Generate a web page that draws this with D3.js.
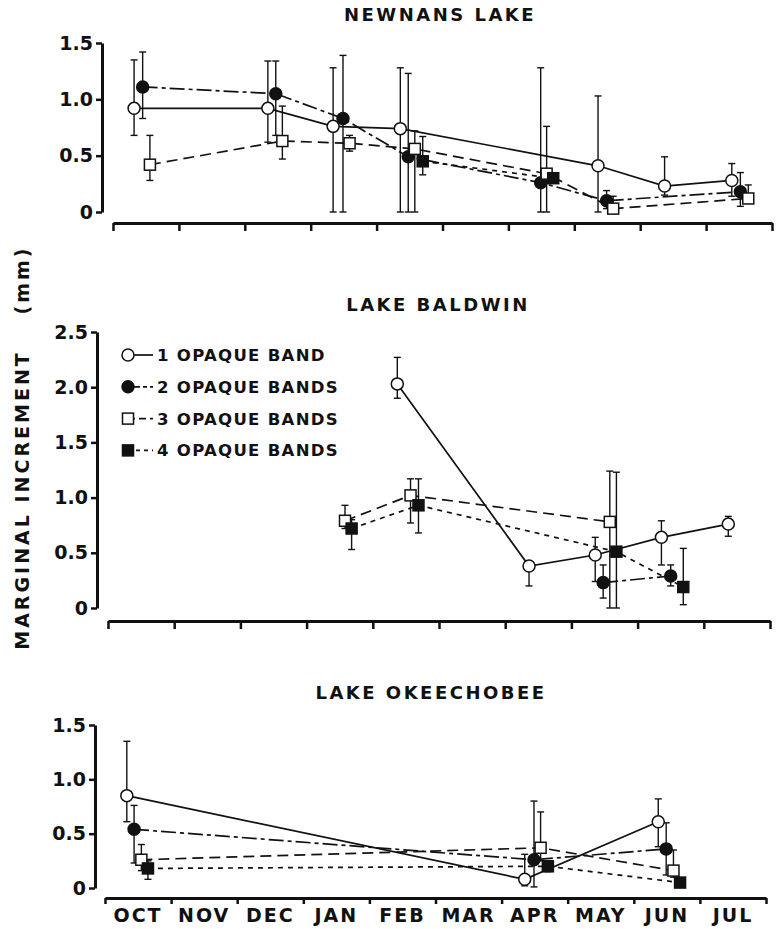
<!DOCTYPE html>
<html>
<head>
<meta charset="utf-8">
<script src="https://cdn.jsdelivr.net/npm/d3@7"></script>
<style>
  body { margin: 0; background: #fff; }
  svg text { font-family: "DejaVu Sans", sans-serif; font-weight: bold; fill: #111; }
</style>
</head>
<body>
<svg id="chart" width="776" height="929"></svg>
<script>
const months = ['OCT', 'NOV', 'DEC', 'JAN', 'FEB', 'MAR', 'APR', 'MAY', 'JUN', 'JUL'];
const seriesNames = ['1 OPAQUE BAND', '2 OPAQUE BANDS', '3 OPAQUE BANDS', '4 OPAQUE BANDS'];
const ticksSmall = [0, 0.5, 1.0, 1.5];
const ticksLarge = [0, 0.5, 1.0, 1.5, 2.0, 2.5];

// [series, month (0 = start of Oct), mean, upper, lower]
const newnans = [
    [0, 0.32, 0.92, 1.35, 0.68], [0, 2.35, 0.92, 1.34, 0.62], [0, 3.34, 0.76, 1.28, 0],
    [0, 4.36, 0.74, 1.28, 0], [0, 7.36, 0.41, 1.03, 0], [0, 8.37, 0.23, 0.49, 0.15], [0, 9.39, 0.28, 0.43, 0.14],
    [1, 0.45, 1.11, 1.42, 0.83], [1, 2.47, 1.05, 1.34, 0.68], [1, 3.49, 0.83, 1.39, 0],
    [1, 4.48, 0.49, 1.23, 0], [1, 6.49, 0.26, 1.28, 0], [1, 7.49, 0.10, 0.19, 0.03], [1, 9.52, 0.18, 0.35, 0.05],
    [2, 0.56, 0.42, 0.68, 0.28], [2, 2.57, 0.63, 0.94, 0.47], [2, 3.59, 0.61, 0.68, 0.54],
    [2, 4.58, 0.56, 0.72, 0], [2, 6.58, 0.34, 0.76, 0], [2, 7.59, 0.03, 0.14, 0], [2, 9.64, 0.12, 0.24, 0.10],
    [3, 4.70, 0.45, 0.67, 0.33], [3, 6.68, 0.30, 0.30, 0.30]
];
const baldwin = [
    [0, 4.37, 2.03, 2.27, 1.90], [0, 6.36, 0.38, 0.42, 0.20], [0, 7.36, 0.48, 0.64, 0.24],
    [0, 8.36, 0.64, 0.79, 0.39], [0, 9.37, 0.76, 0.83, 0.65],
    [1, 7.48, 0.23, 0.39, 0.09], [1, 8.50, 0.29, 0.39, 0.20],
    [2, 3.58, 0.79, 0.93, 0.72], [2, 4.57, 1.02, 1.17, 0.77], [2, 7.58, 0.78, 1.24, 0],
    [3, 3.68, 0.72, 0.80, 0.53], [3, 4.69, 0.93, 1.17, 0.68], [3, 7.68, 0.51, 1.23, 0], [3, 8.69, 0.19, 0.54, 0.03]
];
const okeechobee = [
    [0, 0.33, 0.85, 1.35, 0.61], [0, 6.35, 0.08, 0.31, 0.02], [0, 8.37, 0.61, 0.82, 0.38],
    [1, 0.44, 0.54, 0.76, 0.23], [1, 6.49, 0.26, 0.80, 0.01], [1, 8.49, 0.36, 0.60, 0.12],
    [2, 0.55, 0.26, 0.40, 0.16], [2, 6.59, 0.37, 0.70, 0.25], [2, 8.60, 0.16, 0.35, 0.10],
    [3, 0.65, 0.18, 0.25, 0.08], [3, 6.70, 0.20, 0.23, 0.15], [3, 8.70, 0.05, 0.05, 0.05]
];

const ink = '#111';
const styles = [
    {dash: null, shape: 'circle', fill: '#fff'},
    {dash: '15,4,4,4', shape: 'circle', fill: ink},
    {dash: '11,6', shape: 'square', fill: '#fff'},
    {dash: '5,5', shape: 'square', fill: ink}
];

const panels = [
    {title: 'NEWNANS LAKE', data: newnans, ticks: ticksSmall, left: 113, right: 772, zero: 212, top: 43,
     yAxisX: 102, xAxisY: 223, titleX: 440, titleY: 21},
    {title: 'LAKE BALDWIN', data: baldwin, ticks: ticksLarge, left: 108, right: 770, zero: 608, top: 332,
     yAxisX: 97, xAxisY: 621, titleX: 438, titleY: 311, legend: true},
    {title: 'LAKE OKEECHOBEE', data: okeechobee, ticks: ticksSmall, left: 105, right: 766, zero: 888, top: 725,
     yAxisX: 95, xAxisY: 898, titleX: 431, titleY: 699, labels: true}
];

const svg = d3.select('#chart');

function drawMarker(g, s, cx, cy) {
    const st = styles[s];
    if (st.shape === 'circle') {
        g.append('circle').attr('cx', cx).attr('cy', cy).attr('r', 6)
            .attr('fill', st.fill).attr('stroke', ink).attr('stroke-width', 1.5);
    } else {
        g.append('rect').attr('x', cx - 5.5).attr('y', cy - 5.5).attr('width', 11).attr('height', 11)
            .attr('fill', st.fill).attr('stroke', ink).attr('stroke-width', 1.5);
    }
}

panels.forEach(p => {
    const x = d3.scaleLinear().domain([0, 10]).range([p.left, p.right]);
    const y = d3.scaleLinear().domain([0, d3.max(p.ticks)]).range([p.zero, p.top]);
    const g = svg.append('g');

    g.append('text')
        .attr('x', p.titleX).attr('y', p.titleY)
        .attr('text-anchor', 'middle')
        .attr('font-size', 18).attr('letter-spacing', 2.5)
        .text(p.title);

    // x axis
    const xa = g.append('g')
        .attr('transform', `translate(0,${p.xAxisY})`)
        .call(d3.axisBottom(x).tickValues(d3.range(11)).tickSize(p.labels ? 6 : 8).tickSizeOuter(0).tickFormat(''));
    xa.select('.domain').attr('stroke', ink).attr('stroke-width', 3);
    xa.selectAll('.tick line').attr('stroke', ink).attr('stroke-width', 2.5);

    if (p.labels) {
        g.selectAll('.month')
            .data(months)
            .join('text')
            .attr('x', (d, i) => x(i + 0.5))
            .attr('y', 922)
            .attr('text-anchor', 'middle')
            .attr('font-size', 19).attr('letter-spacing', 2)
            .text(d => d);
    }

    // y axis
    const ya = g.append('g')
        .attr('transform', `translate(${p.yAxisX},0)`)
        .call(d3.axisLeft(y).tickValues(p.ticks).tickSize(6).tickSizeOuter(0)
            .tickFormat(d => d === 0 ? '0' : d.toFixed(1)));
    ya.attr('font-family', null).attr('font-size', null);
    ya.select('.domain').attr('stroke', ink).attr('stroke-width', 3);
    ya.selectAll('.tick line').attr('stroke', ink).attr('stroke-width', 2.5);
    ya.selectAll('.tick text').attr('font-size', 19).attr('fill', ink);

    // lines
    const line = d3.line().x(d => x(d[1])).y(d => y(d[2]));
    d3.range(4).forEach(s => {
        const pts = p.data.filter(d => d[0] === s).sort((a, b) => a[1] - b[1]);
        if (pts.length < 2) return;
        g.append('path')
            .datum(pts)
            .attr('fill', 'none')
            .attr('stroke', ink)
            .attr('stroke-width', 1.7)
            .attr('stroke-dasharray', styles[s].dash)
            .attr('d', line);
    });

    // error bars
    p.data.filter(d => d[3] !== d[4]).forEach(d => {
        const cx = x(d[1]);
        g.append('line').attr('x1', cx).attr('x2', cx).attr('y1', y(d[3])).attr('y2', y(d[4]))
            .attr('stroke', ink).attr('stroke-width', 1.4);
        [d[3], d[4]].forEach(v => {
            g.append('line').attr('x1', cx - 3.5).attr('x2', cx + 3.5).attr('y1', y(v)).attr('y2', y(v))
                .attr('stroke', ink).attr('stroke-width', 1.4);
        });
    });

    // markers
    p.data.forEach(d => drawMarker(g, d[0], x(d[1]), y(d[2])));

    if (p.legend) {
        seriesNames.forEach((name, i) => {
            const ly = 355 + i * 31.8;
            g.append('line').attr('x1', 128).attr('x2', 153).attr('y1', ly).attr('y2', ly)
                .attr('stroke', ink).attr('stroke-width', 1.7)
                .attr('stroke-dasharray', i === 1 ? '12,3,4,3' : i === 2 ? '7,4' : i === 3 ? '4,4' : null);
            drawMarker(g, i, 128, ly);
            g.append('text')
                .attr('x', 157).attr('y', ly).attr('dy', '0.36em')
                .attr('font-size', 16.5).attr('letter-spacing', 1.3)
                .text(name);
        });
    }
});

// shared y label
svg.append('text')
    .attr('transform', 'translate(22,500) rotate(-90)')
    .attr('dy', '0.36em')
    .attr('text-anchor', 'middle')
    .attr('font-size', 19).attr('letter-spacing', 3)
    .text('MARGINAL INCREMENT');
svg.append('text')
    .attr('transform', 'translate(22,280) rotate(-90)')
    .attr('dy', '0.36em')
    .attr('text-anchor', 'middle')
    .attr('font-size', 19).attr('letter-spacing', 3)
    .text('(mm)');
</script>
</body>
</html>
